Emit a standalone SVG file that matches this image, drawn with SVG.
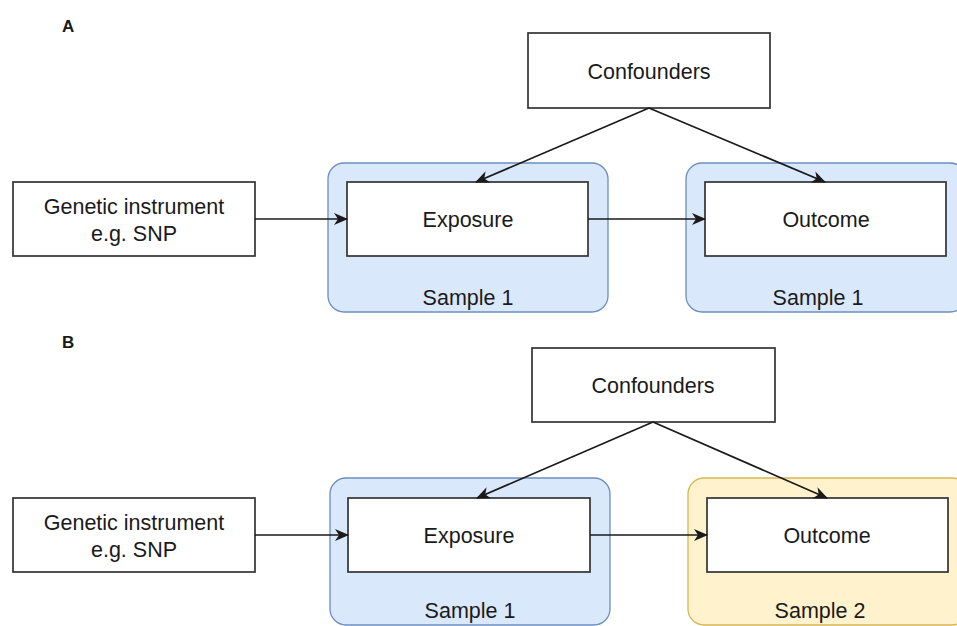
<svg xmlns="http://www.w3.org/2000/svg" width="957" height="626" viewBox="0 0 957 626">
<style>
text{font-family:"Liberation Sans",Arial,sans-serif;fill:#1a1a1a;text-anchor:middle}
.lbl{font-size:21.5px}
.pan{font-size:17px;font-weight:bold;text-anchor:start}
.box{fill:#fff;stroke:#333;stroke-width:1.7}
.blue{fill:#dae8fc;stroke:#6c8ebf;stroke-width:1.3}
.yel{fill:#fff2cc;stroke:#d6b656;stroke-width:1.3}
.edge{stroke:#1a1a1a;stroke-width:1.7;fill:none;marker-end:url(#ah)}
</style>
<defs>
<marker id="ah" viewBox="0 0 14 12" refX="13" refY="6" markerWidth="14" markerHeight="12" markerUnits="userSpaceOnUse" orient="auto">
<path d="M0,0 L14,6 L0,12 L4,6 z" fill="#1a1a1a"/>
</marker>
</defs>
<rect width="957" height="626" fill="#fff"/>
<text class="pan" x="62" y="32">A</text>
<text class="pan" x="62" y="348">B</text>
<g id="a-sample1"><rect class="blue" x="328" y="163" width="280" height="149" rx="16"/><text class="lbl" x="468" y="305">Sample 1</text></g>
<g id="a-sample1b"><rect class="blue" x="686" y="163" width="280" height="149" rx="16"/><text class="lbl" x="818" y="305">Sample 1</text></g>
<g id="a-confounders"><rect class="box" x="528" y="33" width="242" height="75"/><text class="lbl" x="649" y="79">Confounders</text></g>
<g id="a-genetic"><rect class="box" x="13" y="182" width="242" height="74"/><text class="lbl" x="134" y="214">Genetic instrument</text><text class="lbl" x="134" y="241">e.g. SNP</text></g>
<g id="a-exposure"><rect class="box" x="347" y="182" width="241" height="74"/><text class="lbl" x="468" y="227">Exposure</text></g>
<g id="a-outcome"><rect class="box" x="705" y="182" width="241" height="74"/><text class="lbl" x="826" y="227">Outcome</text></g>
<g id="b-sample1"><rect class="blue" x="330" y="478" width="280" height="147" rx="16"/><text class="lbl" x="470" y="618">Sample 1</text></g>
<g id="b-sample2"><rect class="yel" x="688" y="478" width="280" height="147" rx="16"/><text class="lbl" x="820" y="618">Sample 2</text></g>
<g id="b-confounders"><rect class="box" x="532" y="348" width="243" height="74"/><text class="lbl" x="653" y="393">Confounders</text></g>
<g id="b-genetic"><rect class="box" x="13" y="498" width="242" height="74"/><text class="lbl" x="134" y="530">Genetic instrument</text><text class="lbl" x="134" y="557">e.g. SNP</text></g>
<g id="b-exposure"><rect class="box" x="348" y="498" width="242" height="74"/><text class="lbl" x="469" y="543">Exposure</text></g>
<g id="b-outcome"><rect class="box" x="707" y="498" width="241" height="74"/><text class="lbl" x="827" y="543">Outcome</text></g>
<g id="connectors">
<path class="edge" d="M649,108 L476,182"/>
<path class="edge" d="M649,108 L825,182"/>
<path class="edge" d="M255,219 L347,219"/>
<path class="edge" d="M588,219 L705,219"/>
<path class="edge" d="M653,422 L477,498"/>
<path class="edge" d="M653,422 L827,498"/>
<path class="edge" d="M255,535 L348,535"/>
<path class="edge" d="M590,535 L707,535"/>
</g>
</svg>
